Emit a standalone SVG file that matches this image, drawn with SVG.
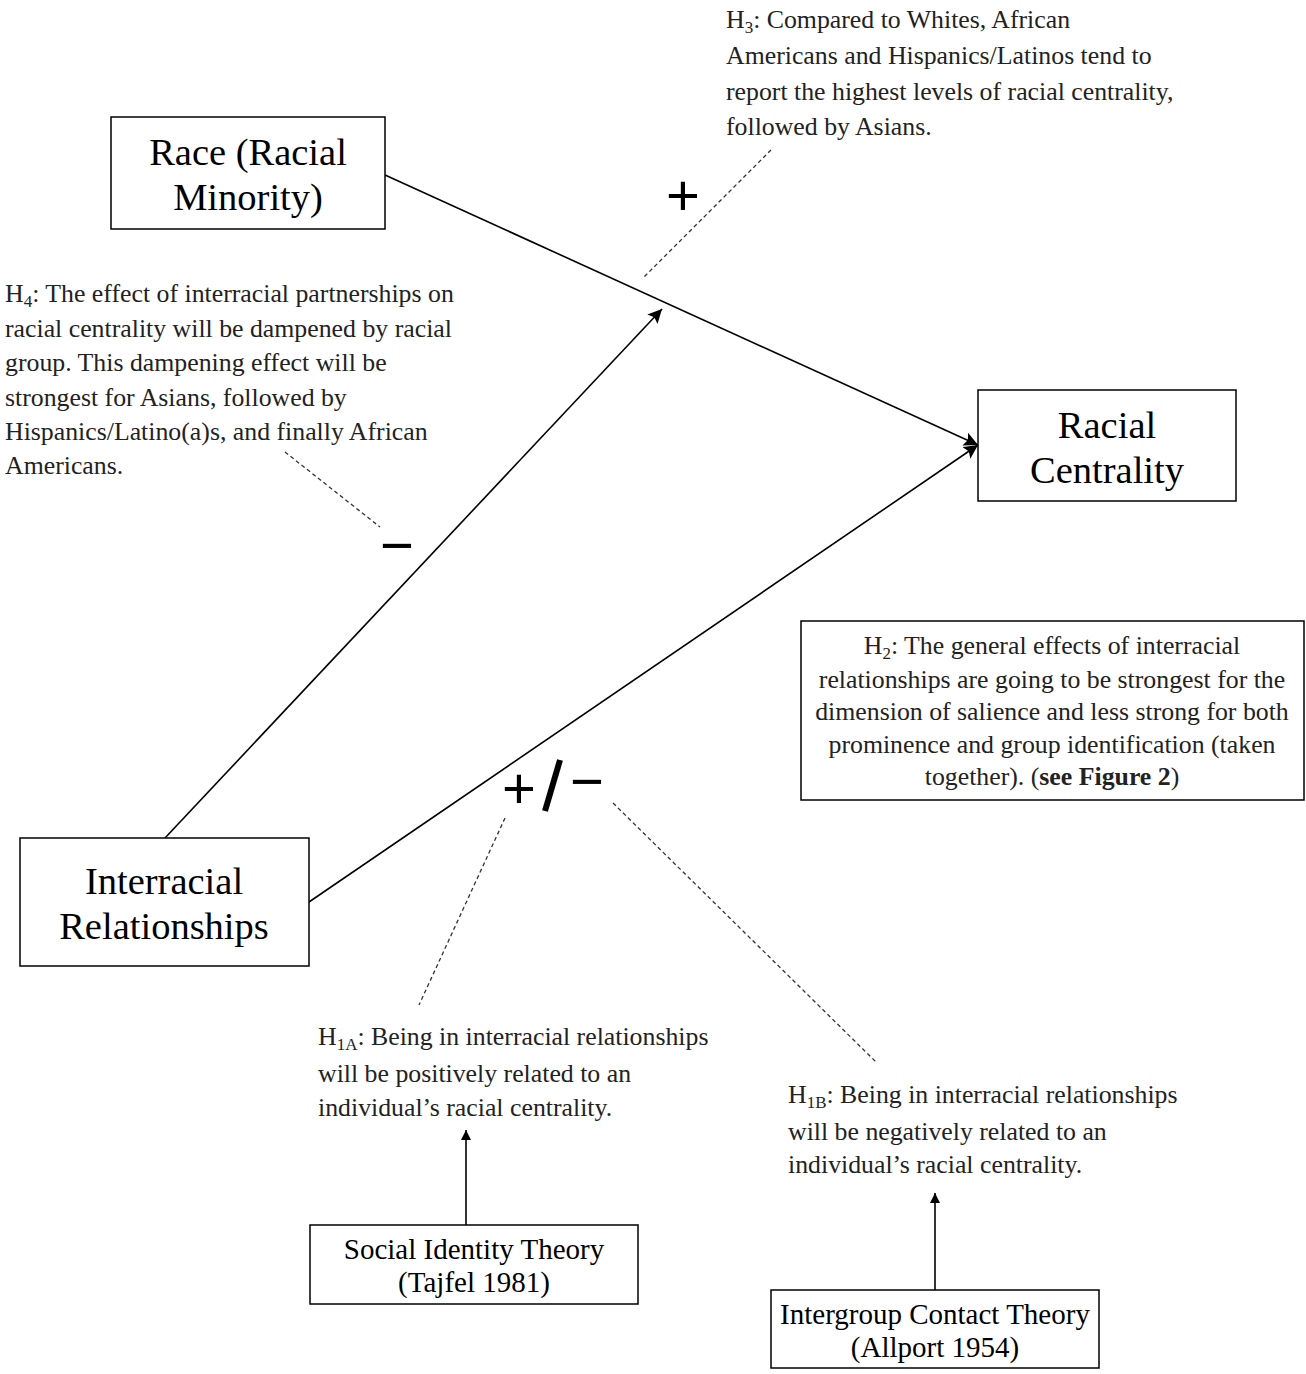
<svg xmlns="http://www.w3.org/2000/svg" width="1306" height="1374" viewBox="0 0 1306 1374">
<style>
.box{fill:#fff;stroke:#000;stroke-width:1.5}
.big{font-family:"Liberation Serif",serif;font-size:38.5px;fill:#000;text-anchor:middle}
.mid{font-family:"Liberation Serif",serif;font-size:29px;fill:#000;text-anchor:middle}
.t{font-family:"Liberation Serif",serif;font-size:25.8px;fill:#222}
.sym{font-family:"Liberation Sans",sans-serif;fill:#000;text-anchor:middle}
.ln{stroke:#000;stroke-width:1.6;fill:none}
.dash{stroke:#333;stroke-width:1.3;stroke-dasharray:4,3;fill:none}
</style>
<defs>
<marker id="ah" viewBox="0 0 10 10" refX="10" refY="5" markerWidth="10" markerHeight="10" markerUnits="userSpaceOnUse" orient="auto">
<path d="M0,0 L10,5 L0,10 Z" fill="#000"/>
</marker>
<marker id="ahl" viewBox="0 0 10 10" refX="10" refY="5" markerWidth="14" markerHeight="14" markerUnits="userSpaceOnUse" orient="auto">
<path d="M0,0 L10,5 L0,10 L2,5 Z" fill="#000"/>
</marker>
</defs>
<rect width="1306" height="1374" fill="#fff"/>
<g id="connectors">
<line class="ln" x1="385" y1="175" x2="978" y2="445" marker-end="url(#ahl)"/>
<line class="ln" x1="309" y1="902" x2="978" y2="445" marker-end="url(#ahl)"/>
<line class="ln" x1="165" y1="838" x2="662" y2="309" marker-end="url(#ahl)"/>
<line class="ln" x1="466" y1="1225" x2="466" y2="1130" marker-end="url(#ah)"/>
<line class="ln" x1="935" y1="1290" x2="935" y2="1193" marker-end="url(#ah)"/>
<line class="dash" x1="771" y1="150" x2="644" y2="277"/>
<line class="dash" x1="285" y1="452" x2="380" y2="527"/>
<line class="dash" x1="505" y1="818" x2="419" y2="1005"/>
<line class="dash" x1="613" y1="803" x2="876" y2="1062"/>
</g>
<g id="race">
<rect class="box" x="111" y="117" width="274" height="112"/>
<text class="big" x="248" y="165">Race (Racial</text>
<text class="big" x="248" y="210">Minority)</text>
</g>
<g id="centrality">
<rect class="box" x="978" y="390" width="258" height="111"/>
<text class="big" x="1107" y="438">Racial</text>
<text class="big" x="1107" y="483">Centrality</text>
</g>
<g id="interracial">
<rect class="box" x="20" y="838" width="289" height="128"/>
<text class="big" x="164" y="894">Interracial</text>
<text class="big" x="164" y="939">Relationships</text>
</g>
<g id="h2">
<rect class="box" x="801" y="621" width="503" height="179"/>
<text class="t" x="1052" y="654" text-anchor="middle">H<tspan font-size="17" dy="5">2</tspan><tspan dy="-5">: The general effects of interracial</tspan></text>
<text class="t" x="1052" y="688" text-anchor="middle">relationships are going to be strongest for the</text>
<text class="t" x="1052" y="720" text-anchor="middle">dimension of salience and less strong for both</text>
<text class="t" x="1052" y="753" text-anchor="middle">prominence and group identification (taken</text>
<text class="t" x="1052" y="785" text-anchor="middle">together). (<tspan font-weight="bold">see Figure 2</tspan>)</text>
</g>
<g id="sit">
<rect class="box" x="310" y="1225" width="328" height="79"/>
<text class="mid" x="474" y="1259">Social Identity Theory</text>
<text class="mid" x="474" y="1292">(Tajfel 1981)</text>
</g>
<g id="ict">
<rect class="box" x="771" y="1290" width="328" height="78"/>
<text class="mid" x="935" y="1324">Intergroup Contact Theory</text>
<text class="mid" x="935" y="1357">(Allport 1954)</text>
</g>
<g id="h3">
<text class="t" x="726" y="28">H<tspan font-size="17" dy="5">3</tspan><tspan dy="-5">: Compared to Whites, African</tspan></text>
<text class="t" x="726" y="64">Americans and Hispanics/Latinos tend to</text>
<text class="t" x="726" y="100">report the highest levels of racial centrality,</text>
<text class="t" x="726" y="135">followed by Asians.</text>
</g>
<g id="h4">
<text class="t" x="5" y="302">H<tspan font-size="17" dy="5">4</tspan><tspan dy="-5">: The effect of interracial partnerships on</tspan></text>
<text class="t" x="5" y="337">racial centrality will be dampened by racial</text>
<text class="t" x="5" y="371">group. This dampening effect will be</text>
<text class="t" x="5" y="406">strongest for Asians, followed by</text>
<text class="t" x="5" y="440">Hispanics/Latino(a)s, and finally African</text>
<text class="t" x="5" y="474">Americans.</text>
</g>
<g id="h1a">
<text class="t" x="318" y="1045">H<tspan font-size="17" dy="5">1A</tspan><tspan dy="-5">: Being in interracial relationships</tspan></text>
<text class="t" x="318" y="1082">will be positively related to an</text>
<text class="t" x="318" y="1116">individual’s racial centrality.</text>
</g>
<g id="h1b">
<text class="t" x="788" y="1103">H<tspan font-size="17" dy="5">1B</tspan><tspan dy="-5">: Being in interracial relationships</tspan></text>
<text class="t" x="788" y="1140">will be negatively related to an</text>
<text class="t" x="788" y="1173">individual’s racial centrality.</text>
</g>
<g id="signs">
<text class="sym" x="683" y="215" font-size="58">+</text>
<text class="sym" x="397" y="565" font-size="58">−</text>
<text class="sym" x="519" y="808" font-size="58">+</text>
<line x1="560" y1="760" x2="545" y2="811" stroke="#000" stroke-width="6"/>
<text class="sym" x="587" y="801" font-size="58">−</text>
</g>
</svg>
